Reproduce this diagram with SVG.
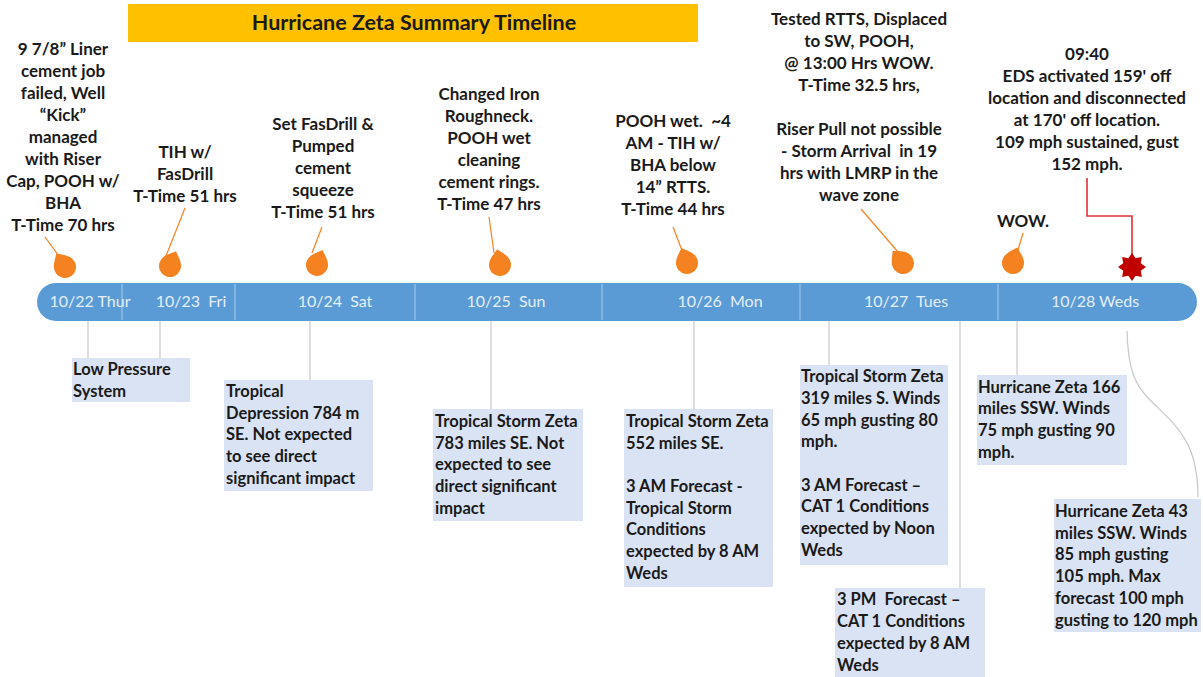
<svg xmlns="http://www.w3.org/2000/svg" width="1203" height="677" viewBox="0 0 1203 677">
  <style>
    .top { font-family: Lato, "Liberation Sans", sans-serif; font-weight: bold; font-size: 17px; fill: #1a1a1a; text-anchor: middle; white-space: pre; }
    .box { fill: #dae3f3; }
    .boxtxt { font-family: Lato, "Liberation Sans", sans-serif; font-weight: bold; font-size: 16.5px; fill: #1a1a1a; white-space: pre; }
    .day { font-family: Lato, "Liberation Sans", sans-serif; font-size: 16px; fill: #e4eefa; text-anchor: middle; white-space: pre; }
    .pinline { stroke: #f58220; stroke-width: 1.2; fill: none; }
    .lead { stroke: #c8c8c8; stroke-width: 1.2; fill: none; }
    .pin { fill: #f58220; }
    .div { stroke: #a9c8ea; stroke-width: 1; }
  </style>
  <defs>
    <path id="drop" d="M0,-16 C5,-11 11,-7 11,0 A11,11 0 0 1 -11,0 C-11,-7 -5,-11 0,-16 Z"/>
  </defs>

  <rect width="1203" height="677" fill="#ffffff"/>

  <!-- title banner -->
  <g id="title">
    <rect x="128" y="4" width="570" height="38" fill="#ffc000"/>
    <text x="414" y="30" style="font-family: Lato, 'Liberation Sans', sans-serif; font-weight: bold; font-size: 21.5px; fill: #1a1a1a; text-anchor: middle;">Hurricane Zeta Summary Timeline</text>
  </g>

  <!-- connectors -->
  <g id="connectors">
    <line class="pinline" x1="45" y1="237" x2="59" y2="256"/>
    <line class="pinline" x1="185" y1="208" x2="166" y2="256"/>
    <line class="pinline" x1="322" y1="227" x2="312" y2="253"/>
    <line class="pinline" x1="489" y1="217" x2="494" y2="253"/>
    <line class="pinline" x1="673" y1="227" x2="683" y2="253"/>
    <line class="pinline" x1="861" y1="209" x2="898" y2="252"/>
    <line class="pinline" x1="1023" y1="233" x2="1018" y2="250"/>
    <polyline points="1087,178 1087,216 1132,216 1132,260" fill="none" stroke="#e0303a" stroke-width="1.6"/>

    <line class="lead" x1="88" y1="321" x2="88" y2="358"/>
    <line class="lead" x1="160" y1="321" x2="160" y2="362"/>
    <line class="lead" x1="310" y1="321" x2="310" y2="380"/>
    <line class="lead" x1="491" y1="321" x2="491" y2="409"/>
    <line class="lead" x1="694" y1="321" x2="694" y2="409"/>
    <line class="lead" x1="829" y1="321" x2="829" y2="365"/>
    <line class="lead" x1="960" y1="321" x2="960" y2="588"/>
    <line class="lead" x1="1017" y1="321" x2="1017" y2="375"/>
    <path class="lead" d="M1127,331 C1128,370 1135,385 1150,400 C1175,425 1198,440 1198,497"/>
  </g>

  <!-- timeline bar -->
  <g id="timeline">
    <rect x="37" y="283" width="1160" height="38" rx="19" ry="19" fill="#5b9bd5"/>
    <line class="div" x1="122" y1="284" x2="122" y2="320"/>
    <line class="div" x1="235" y1="284" x2="235" y2="320"/>
    <line class="div" x1="415" y1="284" x2="415" y2="320"/>
    <line class="div" x1="602" y1="284" x2="602" y2="320"/>
    <line class="div" x1="800" y1="284" x2="800" y2="320"/>
    <line class="div" x1="998" y1="284" x2="998" y2="320"/>
    <text class="day" x="90" y="307">10/22 Thur</text>
    <text class="day" x="191" y="307">10/23  Fri</text>
    <text class="day" x="335" y="307">10/24  Sat</text>
    <text class="day" x="506" y="307">10/25  Sun</text>
    <text class="day" x="720" y="307">10/26  Mon</text>
    <text class="day" x="906" y="307">10/27  Tues</text>
    <text class="day" x="1095" y="307">10/28 Weds</text>
  </g>

  <!-- events above the bar -->
  <g id="ev-1022">
    <use href="#drop" class="pin" transform="translate(65,267) rotate(-33)"/>
    <text class="top" x="63" y="55">9 7/8” Liner</text>
    <text class="top" x="63" y="77">cement job</text>
    <text class="top" x="63" y="99">failed, Well</text>
    <text class="top" x="63" y="121">“Kick”</text>
    <text class="top" x="63" y="143">managed</text>
    <text class="top" x="63" y="165">with Riser</text>
    <text class="top" x="63" y="187">Cap, POOH w/</text>
    <text class="top" x="63" y="209">BHA</text>
    <text class="top" x="63" y="231">T-Time 70 hrs</text>
  </g>
  <g id="ev-1023">
    <use href="#drop" class="pin" transform="translate(170,266) rotate(22)"/>
    <text class="top" x="185" y="158">TIH w/</text>
    <text class="top" x="185" y="180">FasDrill</text>
    <text class="top" x="185" y="202">T-Time 51 hrs</text>
  </g>
  <g id="ev-1024">
    <use href="#drop" class="pin" transform="translate(317,265) rotate(20)"/>
    <text class="top" x="323" y="130">Set FasDrill &amp;</text>
    <text class="top" x="323" y="152">Pumped</text>
    <text class="top" x="323" y="174">cement</text>
    <text class="top" x="323" y="196">squeeze</text>
    <text class="top" x="323" y="218">T-Time 51 hrs</text>
  </g>
  <g id="ev-1025">
    <use href="#drop" class="pin" transform="translate(500,265) rotate(-10)"/>
    <text class="top" x="489" y="100">Changed Iron</text>
    <text class="top" x="489" y="122">Roughneck.</text>
    <text class="top" x="489" y="144">POOH wet</text>
    <text class="top" x="489" y="166">cleaning</text>
    <text class="top" x="489" y="188">cement rings.</text>
    <text class="top" x="489" y="210">T-Time 47 hrs</text>
  </g>
  <g id="ev-1026">
    <use href="#drop" class="pin" transform="translate(687,263) rotate(-20)"/>
    <text class="top" x="673" y="127">POOH wet.  ~4</text>
    <text class="top" x="673" y="149">AM - TIH w/</text>
    <text class="top" x="673" y="171">BHA below</text>
    <text class="top" x="673" y="193">14” RTTS.</text>
    <text class="top" x="673" y="215">T-Time 44 hrs</text>
  </g>
  <g id="ev-1027">
    <use href="#drop" class="pin" transform="translate(903,263) rotate(-40)"/>
    <text class="top" x="859" y="25">Tested RTTS, Displaced</text>
    <text class="top" x="859" y="47">to SW, POOH,</text>
    <text class="top" x="859" y="69">@ 13:00 Hrs WOW.</text>
    <text class="top" x="859" y="91">T-Time 32.5 hrs,</text>
    <text class="top" x="859" y="135">Riser Pull not possible</text>
    <text class="top" x="859" y="157">- Storm Arrival  in 19</text>
    <text class="top" x="859" y="179">hrs with LMRP in the</text>
    <text class="top" x="859" y="201">wave zone</text>
  </g>
  <g id="ev-1028-wow">
    <use href="#drop" class="pin" transform="translate(1013,263) rotate(15)"/>
    <text class="top" x="1023" y="227">WOW.</text>
  </g>
  <g id="ev-1028-eds">
    <polygon fill="#c00000" transform="translate(1132,267)" points="0,-14 3.64,-8.78 9.9,-9.9 8.78,-3.64 14,0 8.78,3.64 9.9,9.9 3.64,8.78 0,14 -3.64,8.78 -9.9,9.9 -8.78,3.64 -14,0 -8.78,-3.64 -9.9,-9.9 -3.64,-8.78"/>
    <text class="top" x="1087" y="60">09:40</text>
    <text class="top" x="1087" y="82">EDS activated 159' off</text>
    <text class="top" x="1087" y="104">location and disconnected</text>
    <text class="top" x="1087" y="126">at 170' off location.</text>
    <text class="top" x="1087" y="148">109 mph sustained, gust</text>
    <text class="top" x="1087" y="170">152 mph.</text>
  </g>

  <!-- weather notes below the bar -->
  <g id="wx-low">
    <rect class="box" x="72" y="358" width="118" height="44"/>
    <text class="boxtxt" x="73" y="375">Low Pressure</text>
    <text class="boxtxt" x="73" y="397">System</text>
  </g>
  <g id="wx-td">
    <rect class="box" x="224" y="380" width="149" height="111"/>
    <text class="boxtxt" x="226" y="397">Tropical</text>
    <text class="boxtxt" x="226" y="419">Depression 784 m</text>
    <text class="boxtxt" x="226" y="440">SE. Not expected</text>
    <text class="boxtxt" x="226" y="462">to see direct</text>
    <text class="boxtxt" x="226" y="484">significant impact</text>
  </g>
  <g id="wx-ts1">
    <rect class="box" x="433" y="409" width="150" height="112"/>
    <text class="boxtxt" x="435" y="427">Tropical Storm Zeta</text>
    <text class="boxtxt" x="435" y="449">783 miles SE. Not</text>
    <text class="boxtxt" x="435" y="470">expected to see</text>
    <text class="boxtxt" x="435" y="492">direct significant</text>
    <text class="boxtxt" x="435" y="514">impact</text>
  </g>
  <g id="wx-ts2">
    <rect class="box" x="624" y="409" width="149" height="178"/>
    <text class="boxtxt" x="626" y="427">Tropical Storm Zeta</text>
    <text class="boxtxt" x="626" y="449">552 miles SE.</text>
    <text class="boxtxt" x="626" y="492">3 AM Forecast -</text>
    <text class="boxtxt" x="626" y="514">Tropical Storm</text>
    <text class="boxtxt" x="626" y="535">Conditions</text>
    <text class="boxtxt" x="626" y="557">expected by 8 AM</text>
    <text class="boxtxt" x="626" y="579">Weds</text>
  </g>
  <g id="wx-ts3">
    <rect class="box" x="800" y="365" width="148" height="200"/>
    <text class="boxtxt" x="801" y="382">Tropical Storm Zeta</text>
    <text class="boxtxt" x="801" y="404">319 miles S. Winds</text>
    <text class="boxtxt" x="801" y="426">65 mph gusting 80</text>
    <text class="boxtxt" x="801" y="447">mph.</text>
    <text class="boxtxt" x="801" y="491">3 AM Forecast –</text>
    <text class="boxtxt" x="801" y="512">CAT 1 Conditions</text>
    <text class="boxtxt" x="801" y="534">expected by Noon</text>
    <text class="boxtxt" x="801" y="556">Weds</text>
  </g>
  <g id="wx-3pm">
    <rect class="box" x="835" y="588" width="150" height="89"/>
    <text class="boxtxt" x="837" y="605">3 PM  Forecast –</text>
    <text class="boxtxt" x="837" y="627">CAT 1 Conditions</text>
    <text class="boxtxt" x="837" y="649">expected by 8 AM</text>
    <text class="boxtxt" x="837" y="671">Weds</text>
  </g>
  <g id="wx-h1">
    <rect class="box" x="977" y="375" width="150" height="90"/>
    <text class="boxtxt" x="978" y="393">Hurricane Zeta 166</text>
    <text class="boxtxt" x="978" y="414">miles SSW. Winds</text>
    <text class="boxtxt" x="978" y="436">75 mph gusting 90</text>
    <text class="boxtxt" x="978" y="458">mph.</text>
  </g>
  <g id="wx-h2">
    <rect class="box" x="1054" y="499" width="147" height="133"/>
    <text class="boxtxt" x="1055" y="517">Hurricane Zeta 43</text>
    <text class="boxtxt" x="1055" y="539">miles SSW. Winds</text>
    <text class="boxtxt" x="1055" y="560">85 mph gusting</text>
    <text class="boxtxt" x="1055" y="582">105 mph. Max</text>
    <text class="boxtxt" x="1055" y="604">forecast 100 mph</text>
    <text class="boxtxt" x="1055" y="626">gusting to 120 mph</text>
  </g>
</svg>
